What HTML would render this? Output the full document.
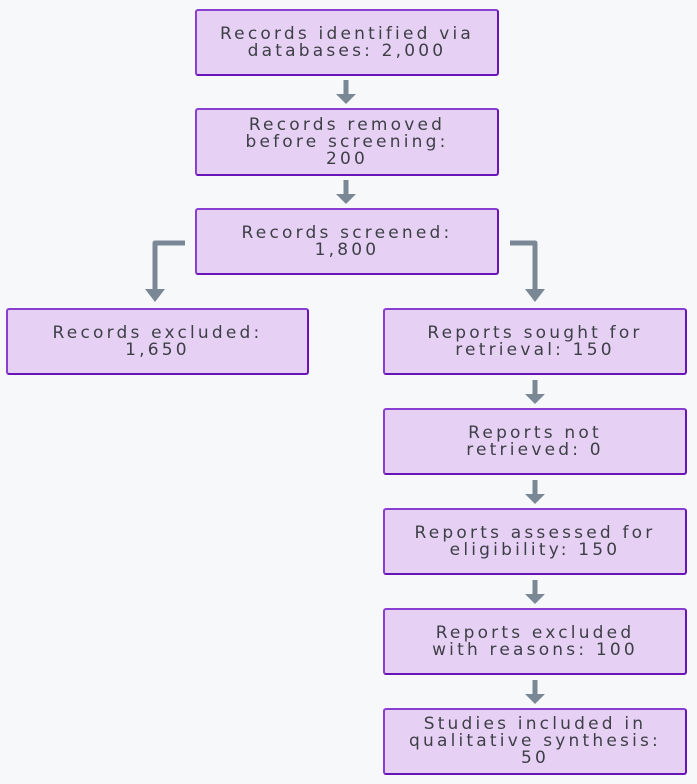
<!DOCTYPE html>
<html><head><style>
body{margin:0;width:697px;height:784px;background:#f7f8fa;position:relative;overflow:hidden;font-family:"DejaVu Sans","Liberation Sans",sans-serif;}
.b{position:absolute;box-sizing:border-box;background:#e6d1f5;border:2px solid #8a3fd0;border-right-color:#6a14b8;border-bottom-color:#6a14b8;border-radius:3px;display:flex;align-items:center;justify-content:center;text-align:center;color:#3e3e46;font-size:17px;line-height:17px;letter-spacing:3.2px;white-space:nowrap;}
svg{position:absolute;left:0;top:0;}
</style></head><body>
<svg width="697" height="784">
<g stroke="#7a8896" stroke-width="5" fill="none" stroke-linejoin="round">
<line x1="346" y1="80" x2="346" y2="95"/>
<line x1="346" y1="180" x2="346" y2="195"/>
<polyline points="185,243 155,243 155,290"/>
<polyline points="510,243 535,243 535,290"/>
<line x1="535" y1="380" x2="535" y2="395"/>
<line x1="535" y1="480" x2="535" y2="495"/>
<line x1="535" y1="580" x2="535" y2="595"/>
<line x1="535" y1="680" x2="535" y2="695"/>
</g>
<g fill="#7a8896">
<path d="M336,94 L356,94 L346,104 Z"/>
<path d="M336,194 L356,194 L346,204 Z"/>
<path d="M145,289 L165,289 L155,302 Z"/>
<path d="M525,289 L545,289 L535,302 Z"/>
<path d="M525,394 L545,394 L535,404 Z"/>
<path d="M525,494 L545,494 L535,504 Z"/>
<path d="M525,594 L545,594 L535,604 Z"/>
<path d="M525,694 L545,694 L535,704 Z"/>
</g>
</svg>
<div class="b" style="left:195px;top:9px;width:304px;height:67px">Records identified via<br>databases: 2,000</div>
<div class="b" style="left:195px;top:108px;width:304px;height:68px">Records removed<br>before screening:<br>200</div>
<div class="b" style="left:195px;top:208px;width:304px;height:67px">Records screened:<br>1,800</div>
<div class="b" style="left:6px;top:308px;width:303px;height:67px">Records excluded:<br>1,650</div>
<div class="b" style="left:383px;top:308px;width:304px;height:67px">Reports sought for<br>retrieval: 150</div>
<div class="b" style="left:383px;top:408px;width:304px;height:67px">Reports not<br>retrieved: 0</div>
<div class="b" style="left:383px;top:508px;width:304px;height:67px">Reports assessed for<br>eligibility: 150</div>
<div class="b" style="left:383px;top:608px;width:304px;height:67px">Reports excluded<br>with reasons: 100</div>
<div class="b" style="left:383px;top:708px;width:304px;height:67px">Studies included in<br>qualitative synthesis:<br>50</div>
</body></html>
